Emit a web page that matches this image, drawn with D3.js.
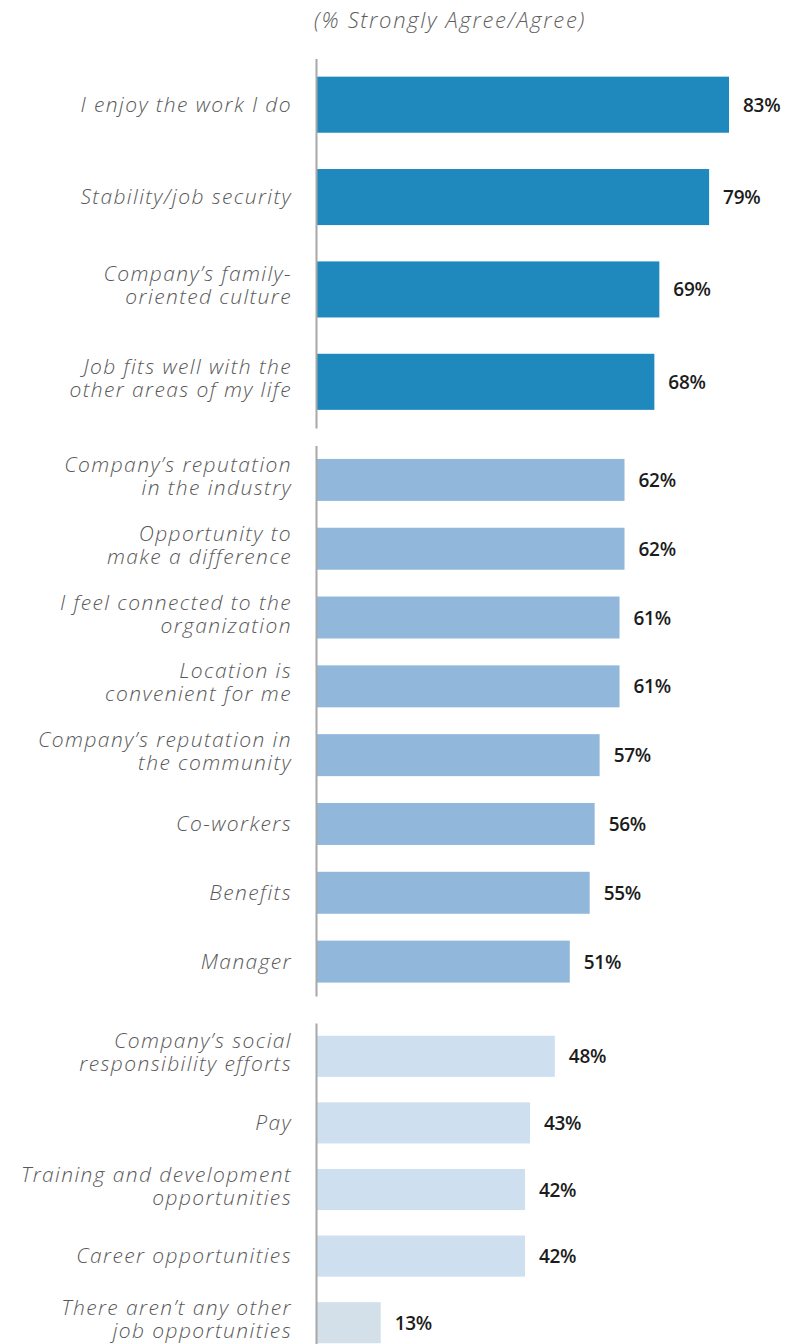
<!DOCTYPE html>
<html>
<head>
<meta charset="utf-8">
<script src="https://cdn.jsdelivr.net/npm/d3@7/dist/d3.min.js"></script>
<style>
  html, body { margin: 0; padding: 0; background: #ffffff; }
  svg { display: block; }
</style>
</head>
<body>
<svg id="chart" width="788" height="1344"></svg>
<script>
// Reasons for staying, % strongly agree / agree
const categories = [
  "I enjoy the work I do",
  "Stability/job security",
  "Company’s family-\noriented culture",
  "Job fits well with the\nother areas of my life",
  "Company’s reputation\nin the industry",
  "Opportunity to\nmake a difference",
  "I feel connected to the\norganization",
  "Location is\nconvenient for me",
  "Company’s reputation in\nthe community",
  "Co-workers",
  "Benefits",
  "Manager",
  "Company’s social\nresponsibility efforts",
  "Pay",
  "Training and development\nopportunities",
  "Career opportunities",
  "There aren’t any other\njob opportunities"
];
const values = [83, 79, 69, 68, 62, 62, 61, 61, 57, 56, 55, 51, 48, 43, 42, 42, 13];
// tier of each reason: 0 = top, 1 = middle, 2 = lower, 3 = lowest
const tiers = [0, 0, 0, 0, 1, 1, 1, 1, 1, 1, 1, 1, 2, 2, 2, 2, 3];
const subtitle = "(% Strongly Agree/Agree)";

const svg = d3.select("#chart");
const tierColor = ["#1f89be", "#91b8da", "#cedff0", "#d3e0ea"];
const labelFont = "'Open Sans', sans-serif";

const x = d3.scaleLinear().domain([0, 100]).range([316, 813.6]);

// vertical extent of each block of bars (one axis segment per block)
const blocks = [
  { tiers: [0], y0: 58.5, y1: 428, pad: 0.393 },
  { tiers: [1], y0: 445.5, y1: 996, pad: 0.39 },
  { tiers: [2, 3], y0: 1023, y1: 1356, pad: 0.383 }
];

const rows = categories.map((c, i) => ({ label: c, value: values[i], tier: tiers[i], i }));

svg.append("text")
  .attr("x", 450).attr("y", 28)
  .attr("text-anchor", "middle")
  .attr("font-family", labelFont)
  .attr("font-style", "italic")
  .attr("font-weight", 300)
  .attr("font-size", 22)
  .attr("letter-spacing", 1.7)
  .attr("fill", "#5e5e5e")
  .text(subtitle);

blocks.forEach(b => {
  const data = rows.filter(r => b.tiers.includes(r.tier));
  const y = d3.scaleBand()
    .domain(data.map(d => d.i))
    .range([b.y0, b.y1])
    .paddingInner(b.pad)
    .paddingOuter(b.pad / 2);

  const g = svg.append("g");

  g.selectAll("rect").data(data).join("rect")
    .attr("x", x(0))
    .attr("y", d => y(d.i))
    .attr("width", d => x(d.value) - x(0))
    .attr("height", y.bandwidth())
    .attr("fill", d => tierColor[d.tier]);

  // vertical axis segment
  const axis = g.append("g").attr("transform", `translate(${x(0)},0)`)
    .call(d3.axisLeft(y).tickSize(0).tickFormat(""));
  axis.select(".domain").attr("stroke", "#a8a8a8").attr("stroke-width", 2);

  // value labels
  g.selectAll("text.val").data(data).join("text")
    .attr("class", "val")
    .attr("x", d => x(d.value) + 14)
    .attr("y", d => y(d.i) + y.bandwidth() / 2 + 7)
    .attr("font-family", "'Open Sans', sans-serif")
    .attr("font-weight", 600)
    .attr("font-size", 19)
    .attr("letter-spacing", -0.3)
    .attr("fill", "#1c1c1c")
    .text(d => d.value + "%");

  // category labels, one tspan per line, block centred slightly above the bar middle
  g.selectAll("text.cat").data(data).join("text")
    .attr("class", "cat")
    .attr("text-anchor", "end")
    .attr("font-family", labelFont)
    .attr("font-style", "italic")
    .attr("font-weight", 300)
    .attr("font-size", 21)
    .attr("letter-spacing", 1.4)
    .attr("fill", "#595959")
    .each(function(d) {
      const lines = d.label.split("\n");
      const n = lines.length;
      const cy = y(d.i) + y.bandwidth() / 2;
      const lh = 23;
      d3.select(this).selectAll("tspan").data(lines).join("tspan")
        .attr("x", 292)
        .attr("y", (l, k) => cy + 7 + (k - (n - 1) / 2) * lh - (n - 1) * 3.5)
        .text(l => l);
    });
});
</script>
</body>
</html>
